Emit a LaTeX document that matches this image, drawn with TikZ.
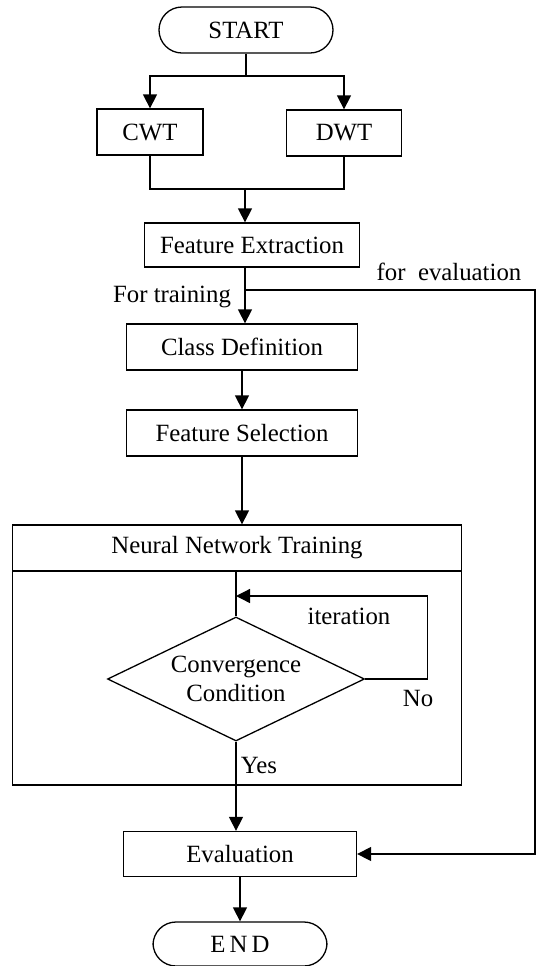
\documentclass[tikz,border=0pt]{standalone}
\usepackage{fontspec}
\setmainfont{Liberation Serif}
\usetikzlibrary{arrows.meta,shapes.geometric}

\begin{document}
\begin{tikzpicture}[x=0.5pt,y=-0.5pt,line width=0.65pt,
      >={Triangle[length=7pt,width=7pt]},
      font=\fontsize{12.4}{14.5}\selectfont,
      box/.style={rectangle,draw,minimum height=23pt,inner sep=0pt},
      term/.style={rectangle,draw,rounded corners=11.5pt,minimum width=87pt,minimum height=23pt,inner sep=0pt},
      cond/.style={diamond,draw,aspect=2,inner sep=0pt,align=center,minimum width=128.5pt,minimum height=62pt},
      lbl/.style={inner sep=0pt}]
      \useasboundingbox (0,0) rectangle (538,966);

      \node[term] (start) at (246, 30) { START };
      \node[box,minimum width=53pt] (cwt) at (150, 132) { CWT };
      \node[box,minimum width=57.5pt] (dwt) at (344, 133) { DWT };
      \node[box,minimum width=107.5pt,minimum height=22pt] (feat) at (252, 245) { Feature Extraction };
      \node[box,minimum width=115.5pt] (cls) at (242, 347) { Class Definition };
      \node[box,minimum width=115.5pt] (sel) at (242, 433) { Feature Selection };

      \node[box,minimum width=224.5pt] (nn) at (237, 548) { Neural Network Training };
      \node[box,minimum width=224.5pt,minimum height=107pt] (nnbody) at (237, 678) {};
      \node[cond] (conv) at (236, 679) { Convergence\\Condition };

      \node[box,minimum width=116.5pt,minimum height=22.5pt] (eval) at (240, 854) { Evaluation };
      \node[term,minimum height=22pt] (end) at (240, 944) { E\,N\,D };

      \coordinate (split) at (246, 76);
      \coordinate (join) at (245, 189);
      \coordinate (fork) at (245, 290);
      \coordinate (rt) at (535, 290);
      \coordinate (back) at (236, 596);

      \node[lbl] (fortrain) at (172, 297) { For training };
      \node[lbl] (foreval) at (449, 272) { for~ evaluation };
      \node[lbl] (iter) at (349, 616) { iteration };
      \node[lbl] (no) at (418, 698) { No };
      \node[lbl] (yes) at (259, 765) { Yes };

      \draw (start) -- (split);
      \draw[->] (split) -| (cwt);
      \draw[->] (split) -| (dwt);
      \draw (cwt) |- (join) -| (dwt);
      \draw[->] (join) -- (join |- feat.north);
      \draw (feat.south -| fork) -- (fork);
      \draw[->] (fork) -- (fork |- cls.north);
      \draw[->] (fork) -- (rt) |- (eval.east);
      \draw[->] (cls) -- (sel);
      \draw[->] (sel.south) -- (sel.south |- nn.north);
      \draw (conv.north |- nnbody.north) -- (conv.north);
      \draw[->] (conv.east) -- ++(62,0) |- (back);
      \draw[->] (conv.south) -- (conv.south |- eval.north);
      \draw[->] (eval) -- (end);

      \end{tikzpicture}
\end{document}
